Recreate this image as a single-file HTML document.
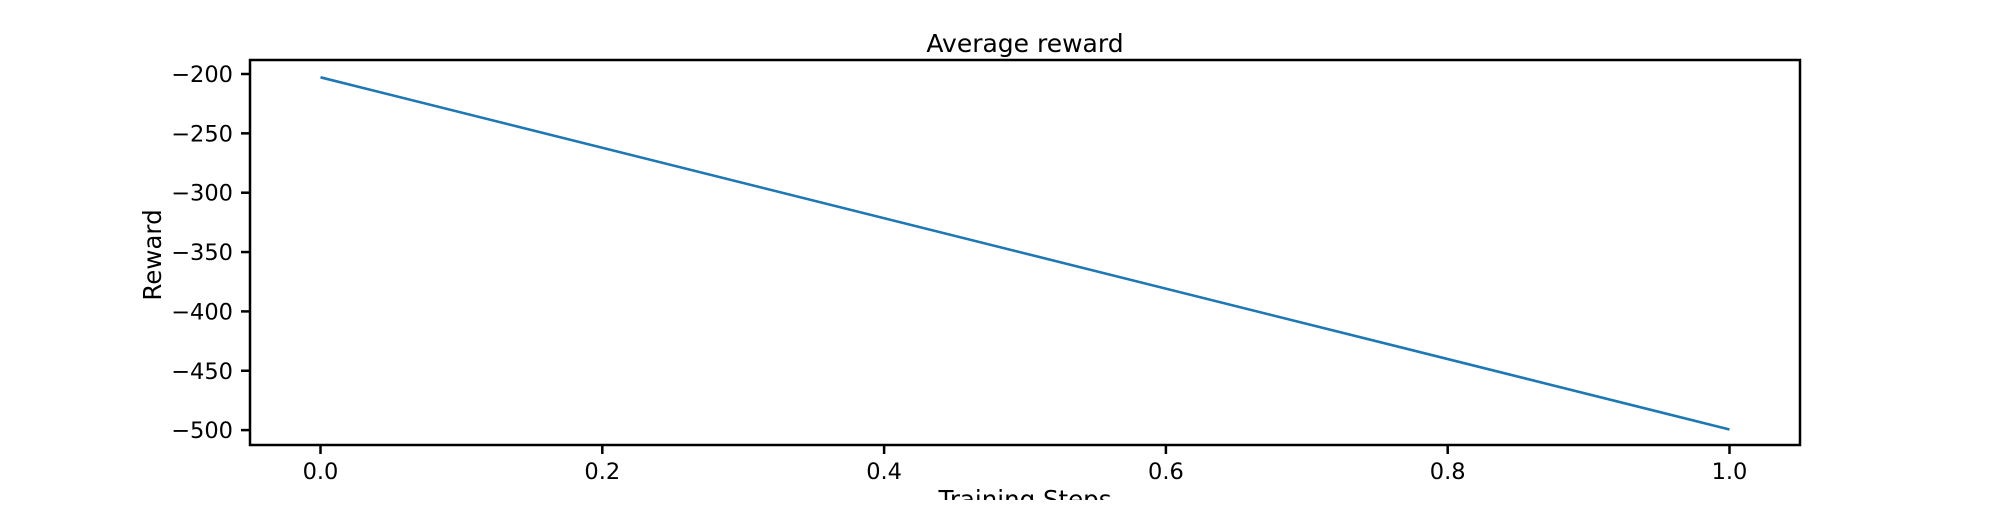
<!DOCTYPE html>
<html><head><meta charset="utf-8"><style>
body{margin:0;background:#fff;}
svg text{font-family:"DejaVu Sans","Liberation Sans",sans-serif;fill:#000;}
</style></head><body>
<svg id="chart" width="2000" height="500">
<text x="1025" y="52" font-size="25" text-anchor="middle">Average reward</text>
<g id="plot"></g>
<rect x="250" y="60" width="1550" height="385" fill="none" stroke="#000" stroke-width="2.5"/>
<text x="1025" y="508" font-size="24.5" text-anchor="middle">Training Steps</text>
<text transform="translate(161,255) rotate(-90)" font-size="24.5" text-anchor="middle">Reward</text>
</svg>
<script>
const steps = [0, 1];
const rewards = [-202.8, -499.5];
const xTicks = [0, 0.2, 0.4, 0.6, 0.8, 1.0];
const yTicks = [-200, -250, -300, -350, -400, -450, -500];

const NS = "http://www.w3.org/2000/svg";
const g = document.getElementById('plot');
function xs(v){ return 320.5 + v * 1409; }
function ys(v){ return 74 + (-200 - v) * 1.187; }
function mk(tag, attrs){ const e=document.createElementNS(NS,tag); for(const k in attrs) e.setAttribute(k,attrs[k]); g.appendChild(e); return e; }

xTicks.forEach(t=>{
  const l = mk('line',{x1:xs(t),x2:xs(t),y1:445,y2:454,stroke:'#000','stroke-width':2.5});
  
  
  const tx = mk('text',{x:xs(t),y:479,'font-size':22.5,'text-anchor':'middle'});
  tx.textContent = t.toFixed(1);
  
  
});
yTicks.forEach(t=>{
  const l = mk('line',{x1:241,x2:250,y1:ys(t),y2:ys(t),stroke:'#000','stroke-width':2.5});
  
  
  const tx = mk('text',{x:233,y:ys(t)+8,'font-size':22.5,'text-anchor':'end'});
  tx.textContent = '\u2212' + Math.abs(t);
  
  
});
const pts = steps.map((s,i)=>xs(s)+','+ys(rewards[i])).join(' ');
const line = mk('polyline',{points:pts,fill:'none',stroke:'#1f77b4','stroke-width':2.6});


</script>
</body></html>
